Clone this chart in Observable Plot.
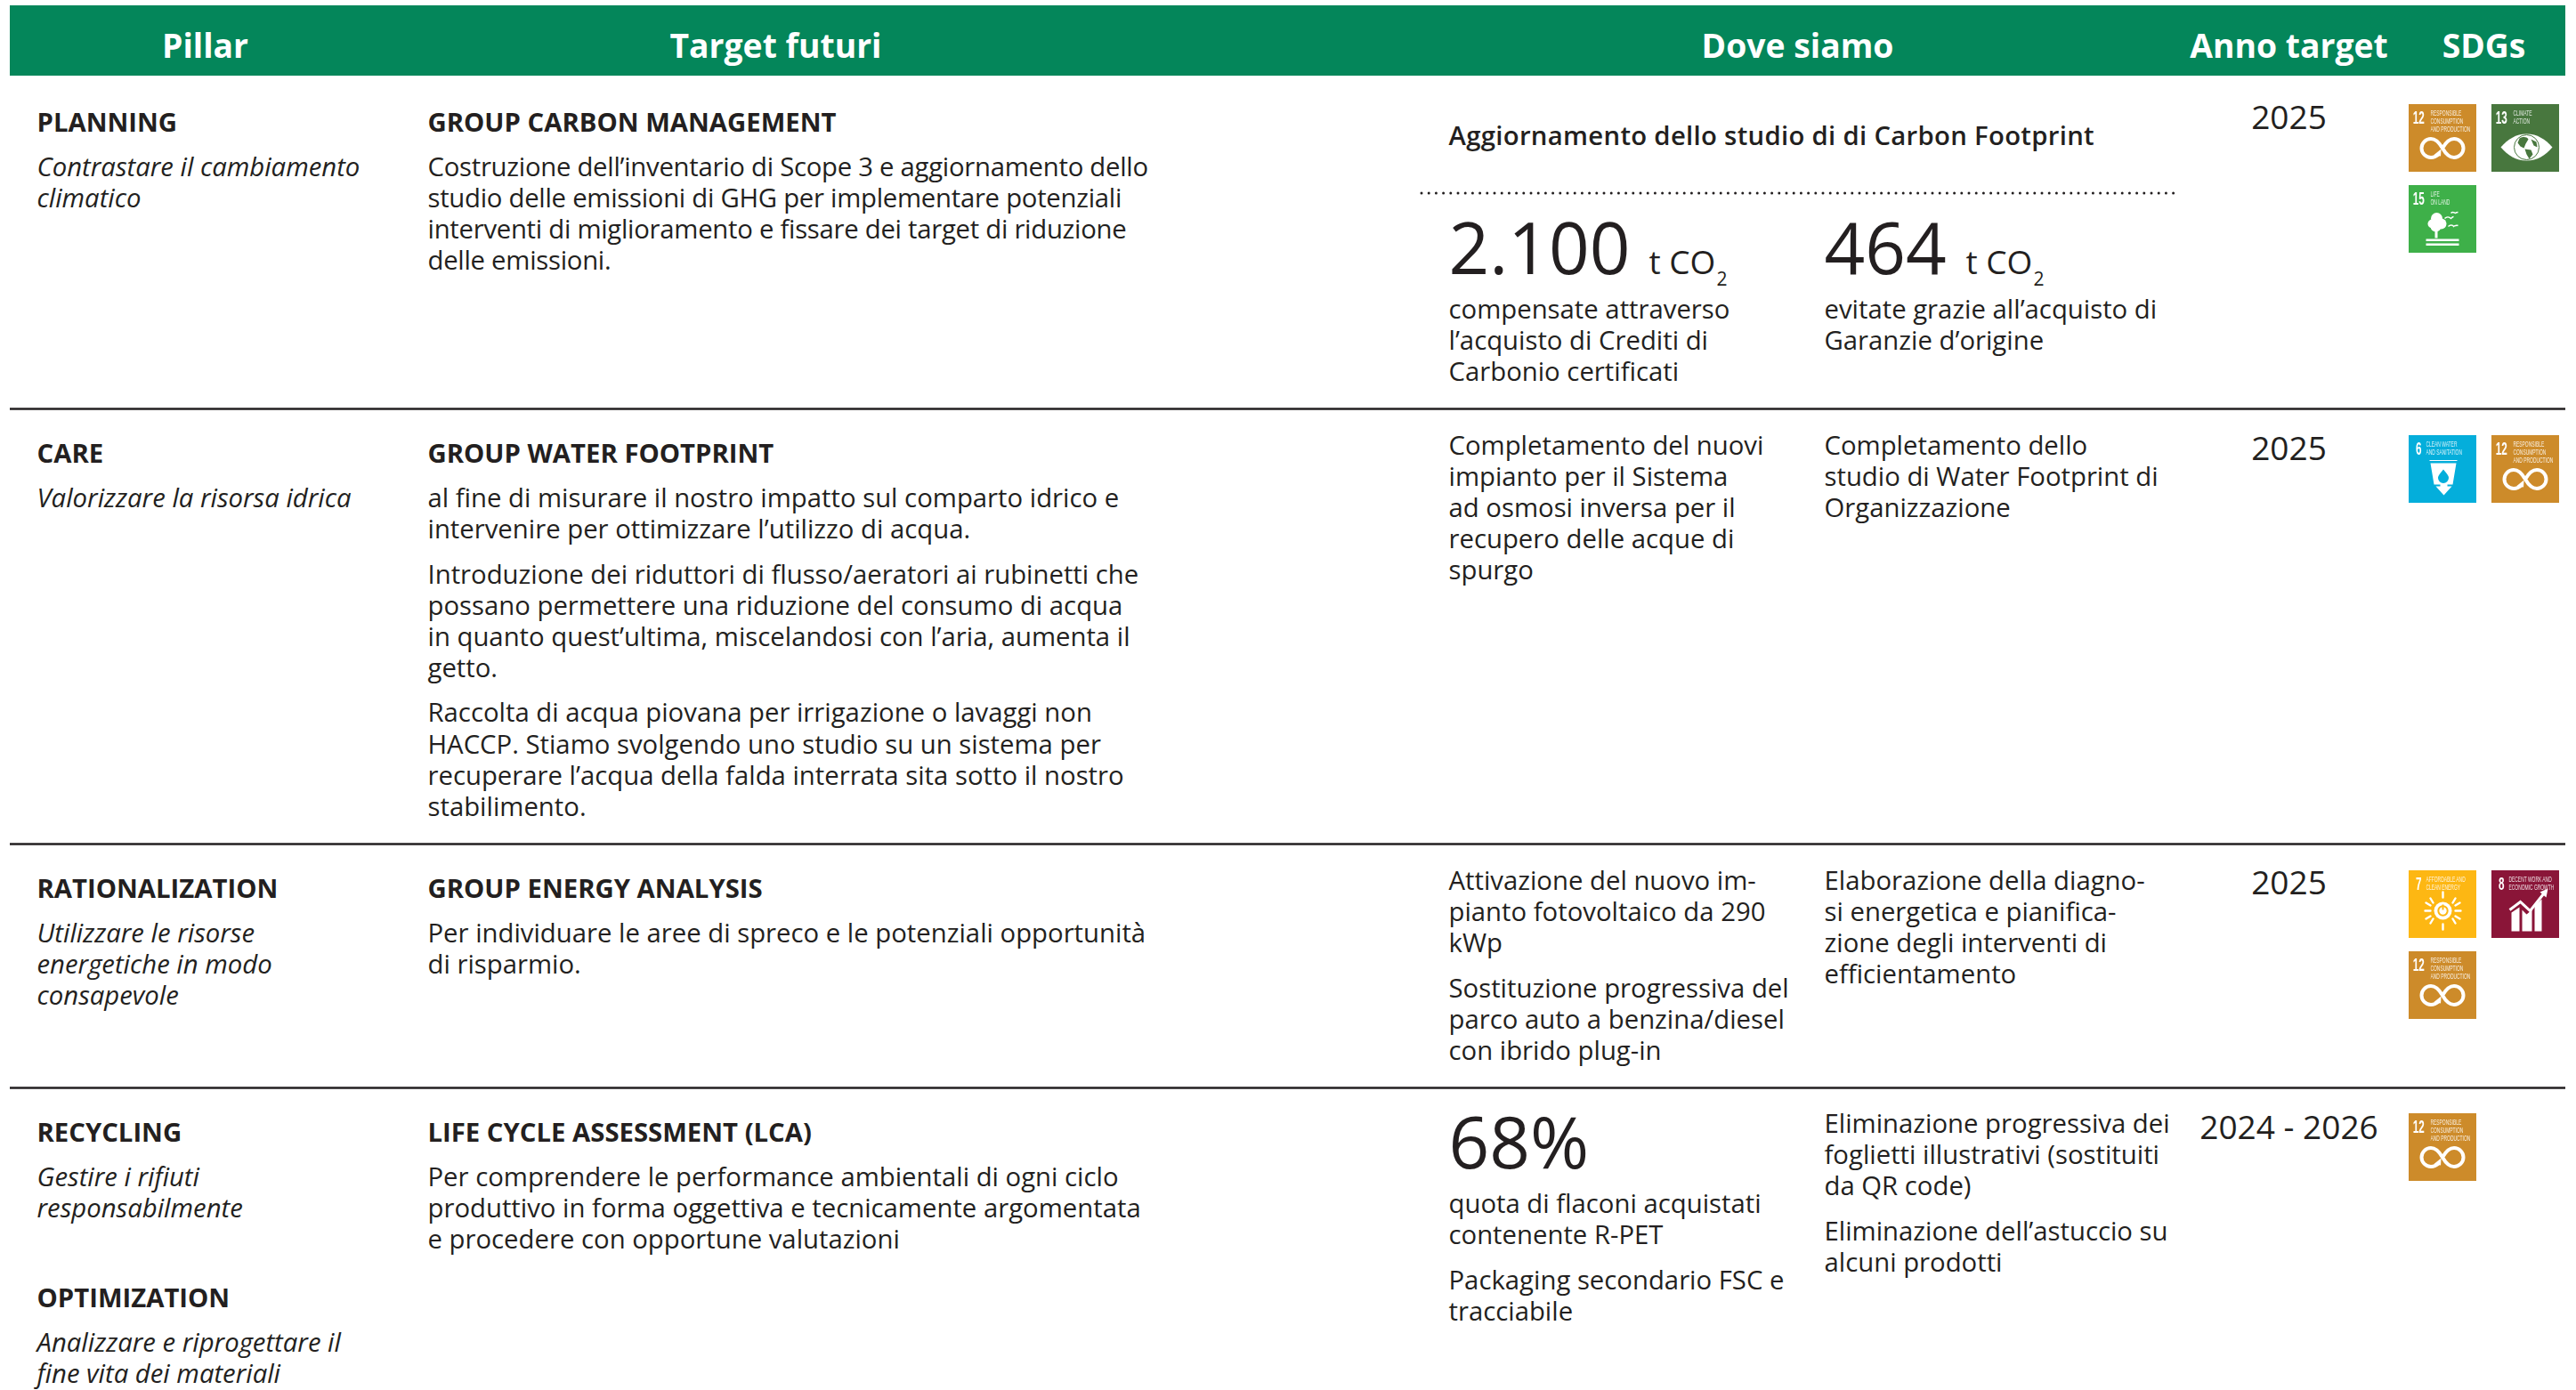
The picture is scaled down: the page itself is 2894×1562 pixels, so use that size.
<!DOCTYPE html>
<html lang="it">
<head>
<meta charset="utf-8">
<script src="https://cdn.jsdelivr.net/npm/d3@7"></script>
<script src="https://cdn.jsdelivr.net/npm/@observablehq/plot@0.6"></script>
<style>
html,body{margin:0;padding:0;background:#fff;overflow:hidden}
svg{display:block}
.tight text{letter-spacing:-.27px}
.wide text{letter-spacing:.3px}
.soft{filter:blur(.3px)}
</style>
</head>
<body>
<div id="chart"></div>
<script>
// ---- content ----
const headers = ["Pillar", "Target futuri", "Dove siamo", "Anno target", "SDGs"];
const pillarBlocks = [
  [["PLANNING", ["Contrastare il cambiamento", "climatico"]]],
  [["CARE", ["Valorizzare la risorsa idrica"]]],
  [["RATIONALIZATION", ["Utilizzare le risorse", "energetiche in modo", "consapevole"]]],
  [["RECYCLING", ["Gestire i rifiuti", "responsabilmente"]], ["OPTIMIZATION", ["Analizzare e riprogettare il", "fine vita dei materiali"]]]
];
const targetHeads = ["GROUP CARBON MANAGEMENT", "GROUP WATER FOOTPRINT", "GROUP ENERGY ANALYSIS", "LIFE CYCLE ASSESSMENT (LCA)"];
const targetParas = [
  [["Costruzione dell’inventario di Scope 3 e aggiornamento dello", "studio delle emissioni di GHG per implementare potenziali", "interventi di miglioramento e fissare dei target di riduzione", "delle emissioni."]],
  [["al fine di misurare il nostro impatto sul comparto idrico e", "intervenire per ottimizzare l’utilizzo di acqua."],
   ["Introduzione dei riduttori di flusso/aeratori ai rubinetti che", "possano permettere una riduzione del consumo di acqua", "in quanto quest’ultima, miscelandosi con l’aria, aumenta il", "getto."],
   ["Raccolta di acqua piovana per irrigazione o lavaggi non", "HACCP. Stiamo svolgendo uno studio su un sistema per", "recuperare l’acqua della falda interrata sita sotto il nostro", "stabilimento."]],
  [["Per individuare le aree di spreco e le potenziali opportunità", "di risparmio."]],
  [["Per comprendere le performance ambientali di ogni ciclo", "produttivo in forma oggettiva e tecnicamente argomentata", "e procedere con opportune valutazioni"]]
];
const carbonTitle = "Aggiornamento dello studio di di Carbon Footprint";
const bigValues = ["2.100", "464", "68%"];
const bigUnit = ["t CO", "2"];
const doveLeft = [
  [["compensate attraverso", "l’acquisto di Crediti di", "Carbonio certificati"]],
  [["Completamento del nuovi", "impianto per il Sistema", "ad osmosi inversa per il", "recupero delle acque di", "spurgo"]],
  [["Attivazione del nuovo im-", "pianto fotovoltaico da 290", "kWp"], ["Sostituzione progressiva del", "parco auto a benzina/diesel", "con ibrido plug-in"]],
  [["quota di flaconi acquistati", "contenente R-PET"], ["Packaging secondario FSC e", "tracciabile"]]
];
const doveRight = [
  [["evitate grazie all’acquisto di", "Garanzie d’origine"]],
  [["Completamento dello", "studio di Water Footprint di", "Organizzazione"]],
  [["Elaborazione della diagno-", "si energetica e pianifica-", "zione degli interventi di", "efficientamento"]],
  [["Eliminazione progressiva dei", "foglietti illustrativi (sostituiti", "da QR code)"], ["Eliminazione dell’astuccio su", "alcuni prodotti"]]
];
const years = ["2025", "2025", "2025", "2024 - 2026"];
const rowSdgs = [[12, 13, 15], [6, 12], [7, 8, 12], [12]];
const sdgLabels = {
  6: ["CLEAN WATER", "AND SANITATION"],
  7: ["AFFORDABLE AND", "CLEAN ENERGY"],
  8: ["DECENT WORK AND", "ECONOMIC GROWTH"],
  12: ["RESPONSIBLE", "CONSUMPTION", "AND PRODUCTION"],
  13: ["CLIMATE", "ACTION"],
  15: ["LIFE", "ON LAND"]
};
const sdgColors = {6: "#04aedb", 7: "#fdb713", 8: "#8a1538", 12: "#cd8b2a", 13: "#48773e", 15: "#3eb049"};

// ---- icons, in the 76-unit space of a tile ----
const W = `fill="#fff"`, S = `fill="none" stroke="#fff"`;
const sdgIcons = {
  6: `<path ${W} d="M24 31h29l-4 24h-6v2h5l-9 10-9-10h5v-2h-7z"/><path fill="none" stroke="#fff" stroke-width="1.2" d="M23 28h31"/><path fill="#04aedb" d="M38.5 38c4 5 6 7 6 9.500a6 6 0 0 1-12 0c0-2.500 2-4.500 6-9.500z"/>`,
  7: `<g stroke="#fff" stroke-width="2.4" stroke-linecap="round"><path d="M38 24v6M38 60v6M18 45h6M52 45h6M24 31l3 5M52 31l-3 5M24 59l3-5M52 59l-3-5M19 36l5 3M57 36l-5 3M19 54l5-3M57 54l-5-3"/></g><circle ${W} cx="38" cy="45" r="10"/><circle fill="none" stroke="#fdb713" stroke-width="2" cx="38" cy="45" r="5.2"/><path stroke="#fdb713" stroke-width="2" d="M38 38v6"/>`,
  8: `<path ${W} d="M22 68V47l9-6v27zM34 68V44l5 5 6-5v24zM48 68V39l8-7v36z"/><path ${S} stroke-width="3" d="M20 44l12-9 11 10 15-19"/><path ${W} d="M54 24l9-4-2 10z"/>`,
  12: `<path ${S} stroke-width="4" d="M37.500 49c4-7 8-10.500 13-10.500a10.500 10.500 0 0 1 0 21c-5 0-9-3.500-13-10.500-4-7-8-10.500-13-10.500a10.500 10.500 0 0 0 0 21c3.500 0 7-2 9.500-4.500"/><path ${W} d="M36 50l-.5 8-7.500-1.500z"/>`,
  13: `<path ${W} d="M10 48c8-9 17-15 29-15s21 6 29 15c-8 9-17 15-29 15s-21-6-29-15z"/><circle fill="none" stroke="#48773e" stroke-width="1" cx="39" cy="48" r="14"/><path fill="#48773e" d="M31 38c4-2 8-2 10 1l-3 5-2 5-4-2-3-4zM37 50l7 1 2 5-4 5-3-5zM44 39l6 3 1 6-4-2z"/>`,
  15: `<circle ${W} cx="26" cy="43" r="5"/><circle ${W} cx="31" cy="37" r="6.500"/><circle ${W} cx="36" cy="43" r="6"/><circle ${W} cx="30" cy="46" r="6"/><path ${W} d="M29 50h3v9h-3z"/><path ${W} d="M19 60h37v2.400H19zM19 65h37v2.400H19z"/><path ${S} stroke-width="1.4" d="M40 37c2-2 5-2 7 0 1-1 2-2 3-2M47 31c2-2 3-1 5 0 1-1 2-1 3-1M44 46c2-2 5-2 6 0 2-1 3-2 5-1"/>`
};
const iconSrc = id => "data:image/svg+xml," + encodeURIComponent(`<svg xmlns="http://www.w3.org/2000/svg" width="76" height="76" viewBox="0 0 76 76">${sdgIcons[id]}</svg>`);

// ---- layout (separate from the content) ----
const INK = "#231f20", GREEN = "#04865a";
const colX = {pillar: 41, target: 480, left: 1627, right: 2049, year: 2571};
const headerX = [230, 871, 2019, 2571, 2790];
const ruleY = [459, 948, 1222];
const headY = [138, 510, 999, 1273];
const doveLeftY = [348, 501, 990, 1353];
const doveRightY = [348, 501, 990, 1263];
const tileX = [2706, 2799], tileY = [117, 489, 978, 1251], tileGap = 91, tileSize = 76;
const yearY = [133, 505, 993, 1268];
const LH = 35.15, PARA = 50.5, HEADGAP = 50;

const body = [], tight = [], bold = [], italic = [];
function paragraphs(paras, x, y, out = body) {
  for (const lines of paras) {
    lines.forEach((t, i) => out.push({t, x, y: y + i * LH}));
    y += (lines.length - 1) * LH + PARA;
  }
}
pillarBlocks.forEach((blocks, r) => {
  let y = headY[r];
  for (const [name, subs] of blocks) {
    bold.push({t: name, x: colX.pillar, y});
    subs.forEach((t, i) => italic.push({t, x: colX.pillar, y: y + HEADGAP + i * LH}));
    y += 186;
  }
  bold.push({t: targetHeads[r], x: colX.target, y: headY[r]});
  paragraphs(targetParas[r], colX.target, headY[r] + HEADGAP, r === 0 ? tight : body);
  paragraphs(doveLeft[r], colX.left, doveLeftY[r]);
  paragraphs(doveRight[r], colX.right, doveRightY[r]);
});
const yearRows = years.map((t, i) => ({t, x: colX.year, y: yearY[i]}));
const bigs = [{t: bigValues[0], x: colX.left, y: 282}, {t: bigValues[1], x: colX.right, y: 282}, {t: bigValues[2], x: colX.left, y: 1287}];
const units = [{t: bigUnit[0], x: 1852, y: 296}, {t: bigUnit[0], x: 2208, y: 296}];
const subs = [{t: bigUnit[1], x: 1928, y: 314}, {t: bigUnit[1], x: 2284, y: 314}];

const tiles = rowSdgs.flatMap((ids, r) => ids.map((id, k) => ({
  id, x: tileX[k % 2], y: tileY[r] + Math.floor(k / 2) * tileGap
})));
const tileNums = tiles.map(d => ({t: String(d.id), x: d.x + 10.7, y: d.y + 15}));
const tileTexts = tiles.flatMap(d => sdgLabels[d.id].map((t, i) => ({
  t, x: d.x + (d.id >= 10 ? 24 : 19), y: d.y + 9.5 + i * 9.2
})));

const label = (data, o) => Plot.text(data, {x: "x", y: "y", text: "t", fontFamily: "'Open Sans'", fill: INK, textAnchor: "start", lineAnchor: "middle", ...o});

const chart = Plot.plot({
  width: 2894, height: 1562, margin: 0,
  x: {domain: [0, 2894], range: [0, 2894], axis: null},
  y: {domain: [0, 1562], range: [0, 1562], axis: null},
  marks: [
    Plot.rect([0], {x1: () => 11, x2: () => 2882, y1: () => 6, y2: () => 85, fill: GREEN}),
    label(headers.map((t, i) => ({t, x: headerX[i], y: 53})), {textAnchor: "middle", fontSize: 37.3, fontWeight: 700, fill: "#fff"}),
    Plot.ruleY(ruleY, {x1: 11, x2: 2882, stroke: INK, strokeWidth: 2.6}),
    Plot.ruleY([216.5], {x1: 1597, x2: 2443, stroke: INK, strokeWidth: 3, strokeDasharray: "0 8.2", strokeLinecap: "round"}),
    label(body, {fontSize: 29.3}),
    label(tight, {fontSize: 29.3, className: "tight"}),
    label(bold, {fontSize: 29.3, fontWeight: 700}),
    label(italic, {fontSize: 29.3, fontStyle: "italic"}),
    label([{t: carbonTitle, x: colX.left, y: 153}], {fontSize: 29.3, fontWeight: 600, className: "wide"}),
    label(yearRows, {fontSize: 37, textAnchor: "middle"}),
    label(bigs, {fontSize: 80}),
    label(units, {fontSize: 37}),
    label(subs, {fontSize: 21}),
    Plot.rect(tiles, {x1: "x", x2: d => d.x + tileSize, y1: "y", y2: d => d.y + tileSize, fill: d => sdgColors[d.id]}),
    Plot.image(tiles, {x: d => d.x + tileSize / 2, y: d => d.y + tileSize / 2, src: d => iconSrc(d.id), width: tileSize, height: tileSize, className: "soft"}),
    label(tileNums, {fontFamily: "'Liberation Sans'", fontWeight: 700, fontSize: 19.5, textAnchor: "middle", fill: "#fff", className: "tile-num soft"}),
    label(tileTexts, {fontFamily: "'Liberation Sans'", fontSize: 8.2, fill: "#fff", fillOpacity: 0.85, className: "tile-text soft"})
  ]
});
document.getElementById("chart").append(chart);

// the tiles use a condensed face that is not installed: squeeze the glyphs horizontally
d3.select(chart).selectAll(".tile-num text, .tile-text text").each(function () {
  this.setAttribute("transform", (this.getAttribute("transform") || "") + " scale(0.6,1)");
});
</script>
</body>
</html>
